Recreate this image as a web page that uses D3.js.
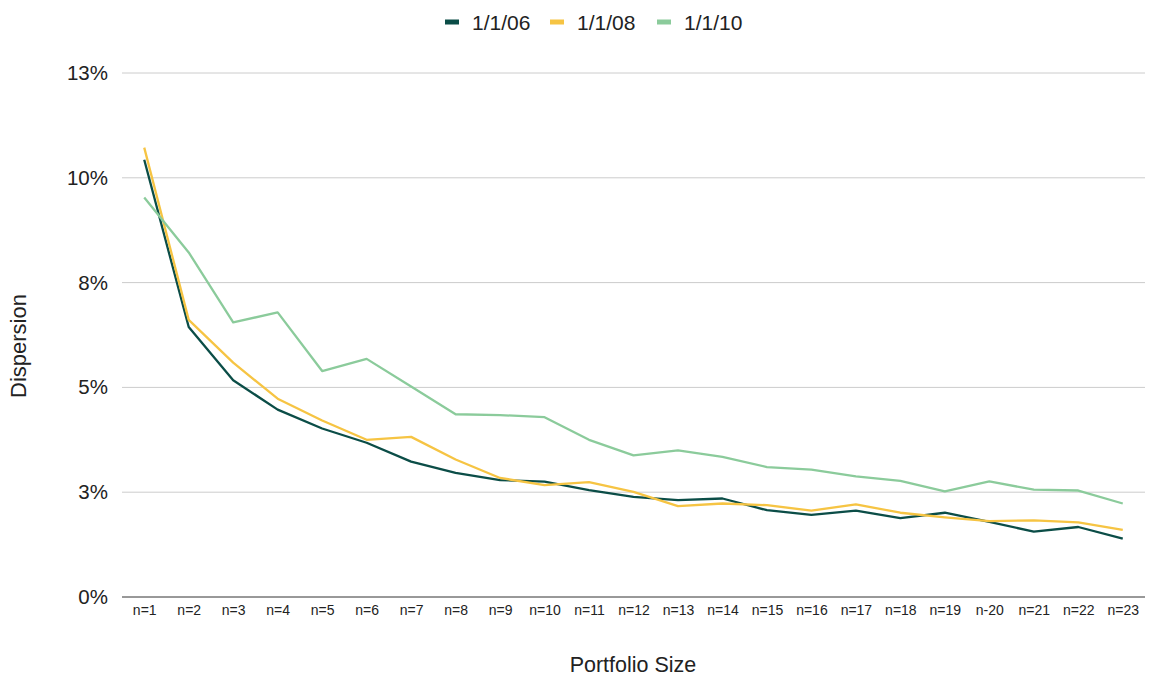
<!DOCTYPE html>
<html>
<head>
<meta charset="utf-8">
<script src="https://cdn.jsdelivr.net/npm/d3@7"></script>
<style>
  html, body { margin: 0; padding: 0; background: #fff; }
  svg { display: block; font-family: "Liberation Sans", Arial, sans-serif; }
</style>
</head>
<body>
<svg id="chart" width="1164" height="677"></svg>
<script>
// Portfolio sizes along the x axis
const categories = ["n=1","n=2","n=3","n=4","n=5","n=6","n=7","n=8","n=9","n=10","n=11","n=12",
  "n=13","n=14","n=15","n=16","n=17","n=18","n=19","n-20","n=21","n=22","n=23"];

// Dispersion (%) for each start date
const series0106 = [10.43, 6.44, 5.17, 4.47, 4.02, 3.68, 3.23, 2.96, 2.79, 2.75, 2.55, 2.39,
  2.31, 2.35, 2.07, 1.96, 2.06, 1.88, 2.01, 1.79, 1.56, 1.67, 1.39];
const series0108 = [10.72, 6.61, 5.59, 4.73, 4.21, 3.75, 3.82, 3.28, 2.84, 2.67, 2.74, 2.51,
  2.17, 2.23, 2.19, 2.06, 2.21, 2.01, 1.90, 1.81, 1.83, 1.78, 1.60];
const series0110 = [9.53, 8.22, 6.55, 6.79, 5.39, 5.68, 5.02, 4.36, 4.34, 4.29, 3.75, 3.38,
  3.50, 3.34, 3.10, 3.04, 2.88, 2.77, 2.52, 2.76, 2.56, 2.54, 2.23];

const seriesNames = ["1/1/06", "1/1/08", "1/1/10"];
const seriesColors = ["#0b4d47", "#f6c443", "#8bcb9b"];

// Gridline values and their printed labels
const yTicks = [0, 2.5, 5, 7.5, 10, 12.5];
const yTickLabels = ["0%", "3%", "5%", "8%", "10%", "13%"];

const allSeries = [series0106, series0108, series0110];

const svg = d3.select("#chart");
const plotLeft = 122, plotRight = 1145, plotTop = 73, plotBottom = 597;
const font = "Liberation Sans, Arial, sans-serif";

const x = d3.scalePoint().domain(categories).range([plotLeft, plotRight]).padding(0.5);
const y = d3.scaleLinear().domain([0, 12.5]).range([plotBottom, plotTop]);

// Horizontal gridlines
svg.append("g")
  .selectAll("line")
  .data(yTicks.filter(d => d > 0))
  .join("line")
  .attr("x1", plotLeft).attr("x2", plotRight)
  .attr("y1", d => y(d)).attr("y2", d => y(d))
  .attr("stroke", "#cccccc").attr("stroke-width", 1);

// Y axis labels
const yAxis = d3.axisLeft(y).tickValues(yTicks)
  .tickFormat((d, i) => yTickLabels[i]).tickSize(0).tickPadding(14);
const gy = svg.append("g").attr("transform", `translate(${plotLeft},0)`).call(yAxis);
gy.select(".domain").remove();
gy.selectAll("text").attr("font-size", 20.5).attr("fill", "#222").attr("font-family", font);

// Baseline
svg.append("line")
  .attr("x1", plotLeft).attr("x2", plotRight)
  .attr("y1", y(0)).attr("y2", y(0))
  .attr("stroke", "#333").attr("stroke-width", 1);

// X axis labels
const xAxis = d3.axisBottom(x).tickSize(0).tickPadding(8);
const gx = svg.append("g").attr("transform", `translate(0,${plotBottom})`).call(xAxis);
gx.select(".domain").remove();
gx.selectAll("text").attr("font-size", 14).attr("fill", "#222").attr("font-family", font);

// Series lines
const line = d3.line()
  .x((d, i) => x(categories[i]))
  .y(d => y(d));

svg.append("g")
  .selectAll("path")
  .data(allSeries)
  .join("path")
  .attr("d", d => line(d))
  .attr("fill", "none")
  .attr("stroke", (d, i) => seriesColors[i])
  .attr("stroke-width", 2.3)
  .attr("stroke-linejoin", "round");

// Axis titles
svg.append("text")
  .attr("x", 633).attr("y", 672)
  .attr("text-anchor", "middle")
  .attr("font-size", 21.5).attr("fill", "#222").attr("font-family", font)
  .text("Portfolio Size");

svg.append("text")
  .attr("transform", "translate(26,346) rotate(-90)")
  .attr("text-anchor", "middle")
  .attr("font-size", 22).attr("fill", "#222").attr("font-family", font)
  .text("Dispersion");

// Legend
const legendX = [445, 550, 657];
const lg = svg.append("g")
  .selectAll("g")
  .data(seriesNames)
  .join("g")
  .attr("transform", (d, i) => `translate(${legendX[i]},22)`);
lg.append("rect")
  .attr("x", 0).attr("y", -2.5).attr("width", 14).attr("height", 5)
  .attr("fill", (d, i) => seriesColors[i]);
lg.append("text")
  .attr("x", 27).attr("y", 7.5)
  .attr("font-size", 21).attr("fill", "#222").attr("font-family", font)
  .text(d => d);
</script>
</body>
</html>
